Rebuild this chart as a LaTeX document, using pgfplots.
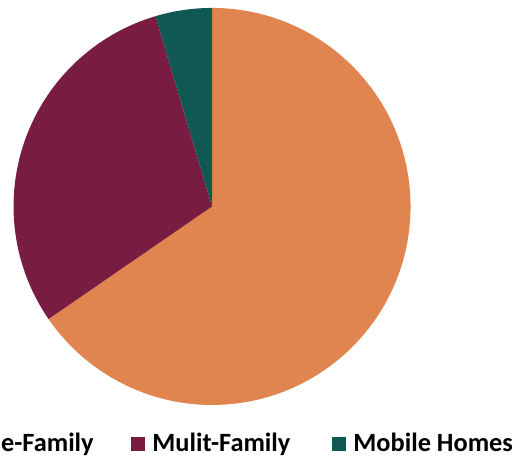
\documentclass[border=0pt]{standalone}
\usepackage{pgfplots}
\pgfplotsset{compat=1.18}
\usepackage{pgfplotstable}
\usepackage{fontspec}
\setmainfont{Carlito}
\definecolor{pieorange}{RGB}{224,132,80}
\definecolor{piepurple}{RGB}{121,28,66}
\definecolor{piegreen}{RGB}{16,88,84}
\pgfplotstableread{
label value
Single-Family 65.4
Mulit-Family 30.0
Mobile-Homes 4.6
}\piedata
\pgfplotstablegetelem{0}{value}\of\piedata \let\vA\pgfplotsretval
\pgfplotstablegetelem{1}{value}\of\piedata \let\vB\pgfplotsretval
\pgfplotstablegetelem{2}{value}\of\piedata \let\vC\pgfplotsretval
\pgfmathsetmacro\aOne{90-3.6*\vA}
\pgfmathsetmacro\aTwo{\aOne-3.6*\vB}
\pgfmathsetmacro\aThree{\aTwo-3.6*\vC}
\begin{document}%
\begin{tikzpicture}
\useasboundingbox (0,0) rectangle (10.42cm,9.18cm);
\begin{axis}[hide axis, x=0.02cm, y=0.02cm, xmin=0, xmax=521, ymin=0, ymax=459,
  clip=false, scale only axis, at={(0,0)}, anchor=south west]
\fill[pieorange] (axis cs:212,252.5) -- ++(90:3.97cm) arc[start angle=90, end angle=\aOne, radius=3.97cm] -- cycle;
\fill[piepurple] (axis cs:212,252.5) -- ++(\aOne:3.97cm) arc[start angle=\aOne, end angle=\aTwo, radius=3.97cm] -- cycle;
\fill[piegreen] (axis cs:212,252.5) -- ++(\aTwo:3.97cm) arc[start angle=\aTwo, end angle=\aThree, radius=3.97cm] -- cycle;
\fill[piepurple] (axis cs:131,8) rectangle (axis cs:145,22);
\fill[piegreen] (axis cs:332,8) rectangle (axis cs:346,22);
\node[anchor=base east, inner sep=0pt, font=\fontsize{15}{18}\selectfont\bfseries] at (axis cs:94,8) {Single-Family};
\node[anchor=base west, inner sep=0pt, font=\fontsize{15}{18}\selectfont\bfseries] at (axis cs:152,8) {Mulit-Family};
\node[anchor=base west, inner sep=0pt, font=\fontsize{15}{18}\selectfont\bfseries] at (axis cs:353,8) {Mobile Homes};
\end{axis}
\end{tikzpicture}%
\end{document}
